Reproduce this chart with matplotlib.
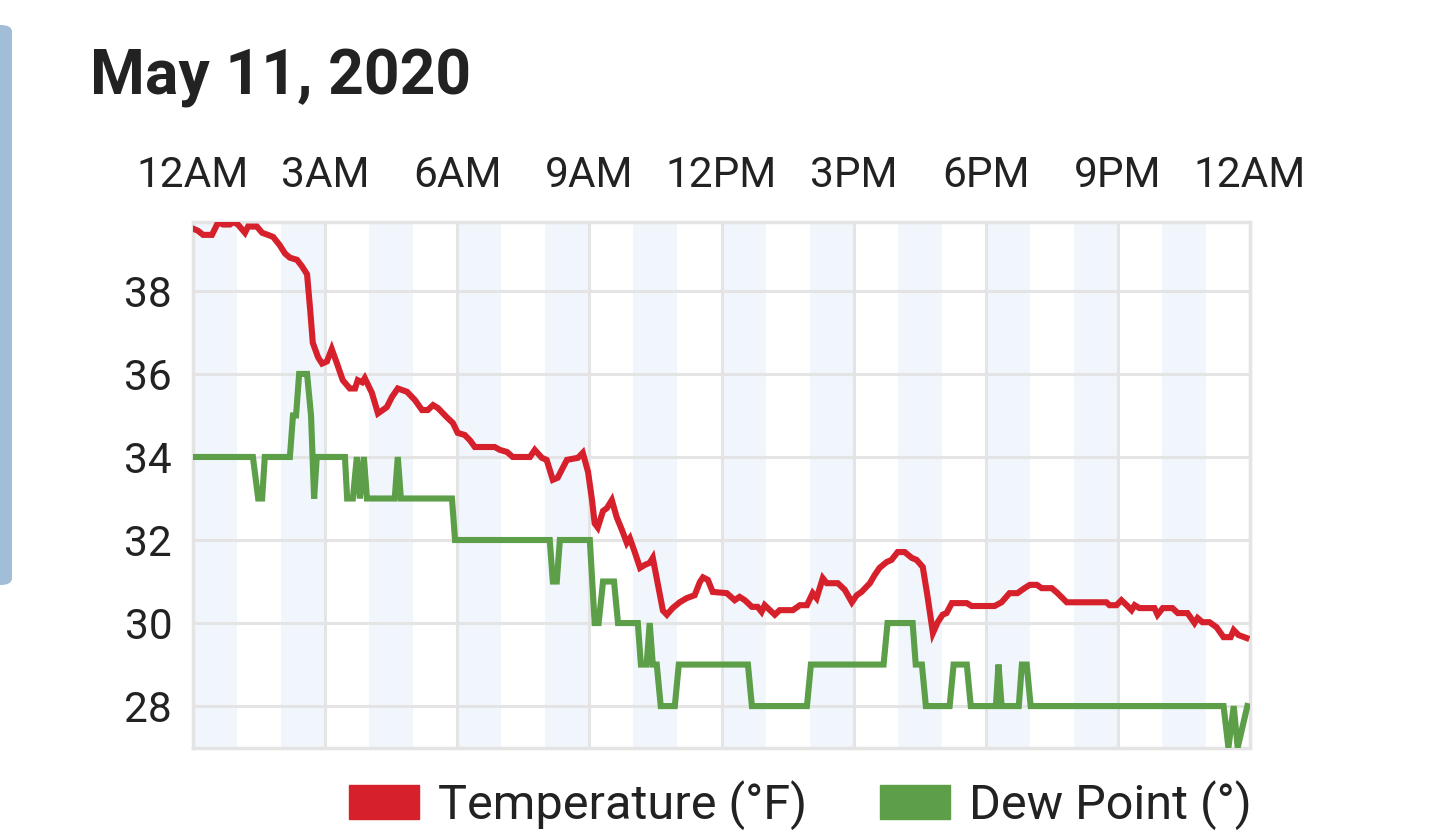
import matplotlib
matplotlib.use("Agg")
import matplotlib.pyplot as plt
from matplotlib.patches import Patch, FancyBboxPatch

plt.rcParams['font.family'] = ['Roboto', 'DejaVu Sans']

# Temperature (F): hour of day, value
temp_hours = [0.00, 0.11, 0.23, 0.43, 0.57, 0.68, 0.84, 0.91, 1.02, 1.18, 1.25, 1.45, 1.57, 1.70,
              1.82, 1.97, 2.09, 2.20, 2.36, 2.47, 2.59, 2.66, 2.72, 2.84, 2.93, 3.04, 3.15, 3.27,
              3.40, 3.56, 3.68, 3.74, 3.84, 3.90, 4.06, 4.20, 4.40, 4.52, 4.65, 4.86, 5.04, 5.20,
              5.33, 5.45, 5.56, 5.76, 5.90, 6.01, 6.17, 6.29, 6.40, 6.85, 6.97, 7.13, 7.26, 7.65,
              7.76, 7.92, 8.03, 8.17, 8.28, 8.49, 8.74, 8.85, 8.97, 9.06, 9.12, 9.19, 9.31, 9.40,
              9.51, 9.62, 9.74, 9.85, 9.92, 10.03, 10.15, 10.26, 10.37, 10.44, 10.55, 10.67, 10.76,
              10.89, 11.05, 11.21, 11.39, 11.51, 11.58, 11.69, 11.80, 12.12, 12.30, 12.41, 12.53,
              12.69, 12.82, 12.91, 12.98, 13.10, 13.21, 13.32, 13.62, 13.78, 13.94, 14.07, 14.16,
              14.30, 14.39, 14.64, 14.80, 14.96, 15.07, 15.18, 15.37, 15.48, 15.59, 15.75, 15.86,
              16.00, 16.16, 16.32, 16.43, 16.57, 16.68, 16.80, 16.91, 17.02, 17.11, 17.23, 17.57,
              17.68, 18.20, 18.36, 18.54, 18.72, 18.88, 19.00, 19.16, 19.27, 19.50, 19.63, 19.84,
              20.74, 20.81, 20.97, 21.08, 21.20, 21.31, 21.38, 21.49, 21.83, 21.90, 22.02, 22.24,
              22.36, 22.58, 22.74, 22.81, 22.92, 23.08, 23.24, 23.40, 23.56, 23.63, 23.74, 23.92]
temp_values = [39.5, 39.45, 39.35, 39.35, 39.65, 39.6, 39.6, 39.66, 39.6, 39.4, 39.55, 39.55, 39.4, 39.35,
               39.3, 39.1, 38.9, 38.8, 38.75, 38.6, 38.4, 37.55, 36.75, 36.4, 36.25, 36.3, 36.6, 36.25,
               35.85, 35.65, 35.65, 35.85, 35.8, 35.9, 35.55, 35.05, 35.2, 35.45, 35.65, 35.57, 35.37, 35.13,
               35.13, 35.25, 35.18, 34.96, 34.82, 34.58, 34.53, 34.4, 34.24, 34.24, 34.17, 34.12, 34.0, 34.0,
               34.17, 33.98, 33.93, 33.45, 33.5, 33.93, 33.98, 34.1, 33.64, 32.96, 32.4, 32.3, 32.7, 32.77,
               32.96, 32.55, 32.24, 31.93, 32.04, 31.71, 31.33, 31.4, 31.45, 31.57, 30.96, 30.3, 30.2,
               30.36, 30.5, 30.6, 30.67, 30.99, 31.1, 31.04, 30.75, 30.72, 30.55, 30.63, 30.55,
               30.39, 30.39, 30.27, 30.43, 30.31, 30.2, 30.31, 30.31, 30.43, 30.43, 30.72, 30.6,
               31.08, 30.96, 30.96, 30.8, 30.5, 30.67, 30.75, 30.96, 31.16, 31.33, 31.47, 31.52,
               31.71, 31.71, 31.57, 31.52, 31.35, 30.63, 29.76, 30.02, 30.2, 30.24, 30.48, 30.48,
               30.41, 30.41, 30.5, 30.72, 30.72, 30.84, 30.92, 30.92, 30.84, 30.84, 30.72, 30.5,
               30.5, 30.43, 30.43, 30.55, 30.43, 30.31, 30.43, 30.36, 30.36, 30.2, 30.36, 30.36,
               30.24, 30.24, 30.0, 30.12, 30.02, 30.02, 29.9, 29.66, 29.66, 29.83, 29.71, 29.64]

# Dew point
dew_hours = [0.00, 1.36, 1.48, 1.57, 1.63, 2.20, 2.27, 2.34, 2.41, 2.59, 2.68, 2.75, 2.81, 3.45,
             3.50, 3.63, 3.72, 3.79, 3.88, 3.95, 4.58, 4.65, 4.72, 5.88, 5.95, 8.10, 8.17, 8.26,
             8.33, 9.01, 9.12, 9.21, 9.31, 9.56, 9.65, 10.10, 10.17, 10.30, 10.37, 10.44, 10.53,
             10.62, 10.94, 11.03, 12.60, 12.69, 13.94, 14.03, 15.68, 15.77, 16.34, 16.41, 16.55,
             16.64, 17.18, 17.27, 17.57, 17.66, 18.23, 18.29, 18.36, 18.75, 18.82, 18.93, 19.02,
             23.40, 23.51, 23.63, 23.72, 23.94]
dew_values = [34, 34, 33, 33, 34, 34, 35, 35, 36, 36, 35, 33, 34, 34,
              33, 33, 34, 33, 34, 33, 33, 34, 33, 33, 32, 32, 31, 31,
              32, 32, 30, 30, 31, 31, 30, 30, 29, 29, 30, 29, 29,
              28, 28, 29, 29, 28, 28, 29, 29, 30, 30, 29, 29,
              28, 28, 29, 29, 28, 28, 29, 28, 28, 29, 29, 28,
              28, 27, 28, 27, 28]

tick_hours = [0, 3, 6, 9, 12, 15, 18, 21, 24]
tick_labels = ["12AM", "3AM", "6AM", "9AM", "12PM", "3PM", "6PM", "9PM", "12AM"]
y_ticks = [28, 30, 32, 34, 36, 38]

red = "#d6202b"
green = "#5c9f48"
grid_col = "#e4e4e4"
text_col = "#222222"

fig = plt.figure(figsize=(14.39, 8.36), dpi=100)
ax = fig.add_axes([193 / 1439, 1 - 748 / 836, (1250 - 193) / 1439, (748 - 222) / 836])

# alternating hour shading
for k in range(12):
    ax.axvspan(2 * k, 2 * k + 1, color="#f0f6fb", lw=0, zorder=0)

ax.plot(temp_hours, temp_values, color=red, lw=4.4, zorder=3, solid_joinstyle="miter")
ax.plot(dew_hours, dew_values, color=green, lw=4.4, zorder=3, solid_joinstyle="miter")

ax.set_xlim(0, 24)
ax.set_ylim(26.99, 39.66)
ax.set_xticks(tick_hours)
ax.set_xticklabels(tick_labels)
ax.set_yticks(y_ticks)
ax.xaxis.tick_top()
ax.tick_params(axis="x", length=0, pad=19, labelsize=30.5, labelcolor=text_col)
ax.tick_params(axis="y", length=0, pad=15, labelsize=30.5, labelcolor=text_col)
ax.grid(True, color=grid_col, lw=2.2, zorder=1)
for s in ax.spines.values():
    s.set_color(grid_col)
    s.set_linewidth(2.5)

fig.text(90 / 1439, 1 - 95 / 836, "May 11, 2020", fontsize=45, fontweight="bold",
         color=text_col, va="baseline", ha="left")

handles = [Patch(color=red, label="Temperature (°F)"), Patch(color=green, label="Dew Point (°)")]
fig.legend(handles=handles, loc="center", bbox_to_anchor=(800 / 1439, 1 - 805 / 836), ncol=2,
           frameon=False, fontsize=35, handlelength=1.45, handleheight=0.72, handletextpad=0.38,
           columnspacing=1.5, labelcolor=text_col)

# side panel edge from the app screen
fig.patches.append(FancyBboxPatch((-0.02, 1 - 585 / 836), 0.02 + 12 / 1439, 560 / 836,
                                  boxstyle="round,pad=0,rounding_size=0.008",
                                  transform=fig.transFigure, color="#a2bdd7", lw=0))

fig.savefig("out.png", dpi=100)
